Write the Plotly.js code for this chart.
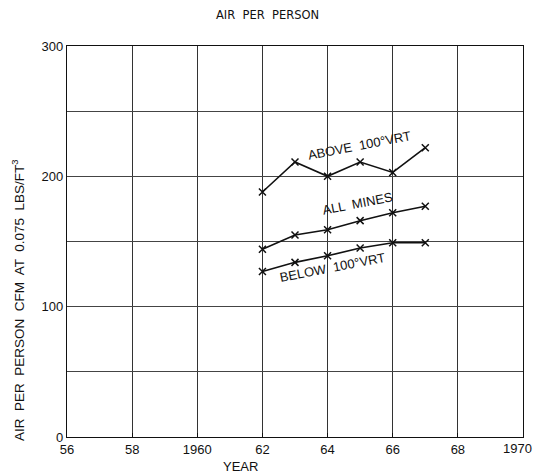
<!DOCTYPE html>
<html>
<head>
<meta charset="utf-8">
<script src="https://cdn.plot.ly/plotly-3.0.1.min.js"></script>
<style>html,body{margin:0;padding:0;background:#fff;}#chart{width:535px;height:475px;}</style>
</head>
<body>
<div id="chart"></div>
<script>
const years = [1962, 1963, 1964, 1965, 1966, 1967];
const above100 = [188, 211, 200, 211, 203, 222];
const allMines = [144, 155, 159, 166, 172, 177];
const below100 = [127, 134, 139, 145, 149, 149];

const xTickVals = [1956, 1958, 1960, 1962, 1964, 1966, 1968, 1970];
const xTickText = ["56", "58", "1960", "62", "64", "66", "68", "1970"];
const yTickVals = [0, 50, 100, 150, 200, 250, 300];
const yTickText = ["0", "", "100", "", "200", "", "300"];

const seriesNames = ["ABOVE  100°VRT", "ALL  MINES", "BELOW  100°VRT"];
const seriesValues = [above100, allMines, below100];

const font = "Liberation Sans, Arial, sans-serif";

// last x tick label is drawn as a right-anchored annotation so it stays inside the page
const lastIdx = xTickText.length - 1;
const axisTickText = xTickText.map((t, i) => i === lastIdx ? "" : t);

const traces = seriesValues.map((vals, i) => ({
  x: years, y: vals, name: seriesNames[i],
  type: "scatter", mode: "lines+markers",
  line: {color: "#111", width: 1.6},
  marker: {symbol: "x-thin", size: 7, color: "#111", line: {color: "#111", width: 1.5}},
  showlegend: false, hoverinfo: "skip"
}));

const layout = {
  width: 535, height: 475,
  margin: {l: 67, r: 12, t: 46, b: 38},
  paper_bgcolor: "#fff", plot_bgcolor: "#fff",
  title: {text: "AIR  PER  PERSON", x: 0.5, xref: "container", y: 0.968, yanchor: "middle",
          font: {family: "DejaVu Sans, sans-serif", size: 11.5, color: "#111"}},
  xaxis: {
    range: [1956, 1970], tickvals: xTickVals, ticktext: axisTickText,
    showgrid: true, gridcolor: "#333", gridwidth: 1,
    showline: true, linecolor: "#111", linewidth: 1.2, mirror: true,
    ticks: "inside", ticklen: 4, tickcolor: "#111",
    tickfont: {family: font, size: 13, color: "#111"},
    zeroline: false, fixedrange: true
  },
  yaxis: {
    range: [0, 300], tickvals: yTickVals, ticktext: yTickText,
    showgrid: true, gridcolor: "#444", gridwidth: 1,
    showline: true, linecolor: "#111", linewidth: 1.2, mirror: true,
    ticks: "", tickfont: {family: font, size: 13, color: "#111"},
    zeroline: false, fixedrange: true
  },
  annotations: [
    {text: xTickText[lastIdx], xref: "x", yref: "paper", x: xTickVals[lastIdx], xshift: 11,
     y: 0, yshift: -11, xanchor: "right", yanchor: "middle",
     showarrow: false, font: {family: font, size: 13, color: "#111"}},
    {text: "YEAR", xref: "paper", yref: "paper", x: (240-67)/456, y: -0.075, yanchor: "middle",
     showarrow: false, font: {family: font, size: 13, color: "#111"}},
    {text: "AIR  PER  PERSON  CFM  AT  0.075  LBS/FT<sup>3</sup>", xref: "paper", yref: "paper",
     x: (18-67)/456, y: (437-300)/391, textangle: -90, xanchor: "center", yanchor: "middle",
     showarrow: false, font: {family: font, size: 13.5, color: "#111"}},
    {text: seriesNames[0], xref: "x", yref: "y", x: 1964.97, y: 224, textangle: -11,
     showarrow: false, font: {family: font, size: 13, color: "#111"}},
    {text: seriesNames[1], xref: "x", yref: "y", x: 1964.93, y: 179, textangle: -11,
     showarrow: false, font: {family: font, size: 13, color: "#111"}},
    {text: seriesNames[2], xref: "x", yref: "y", x: 1964.14, y: 130, textangle: -11,
     showarrow: false, font: {family: font, size: 13, color: "#111"}}
  ]
};

Plotly.newPlot("chart", traces, layout, {displayModeBar: false, staticPlot: true});
</script>
</body>
</html>
